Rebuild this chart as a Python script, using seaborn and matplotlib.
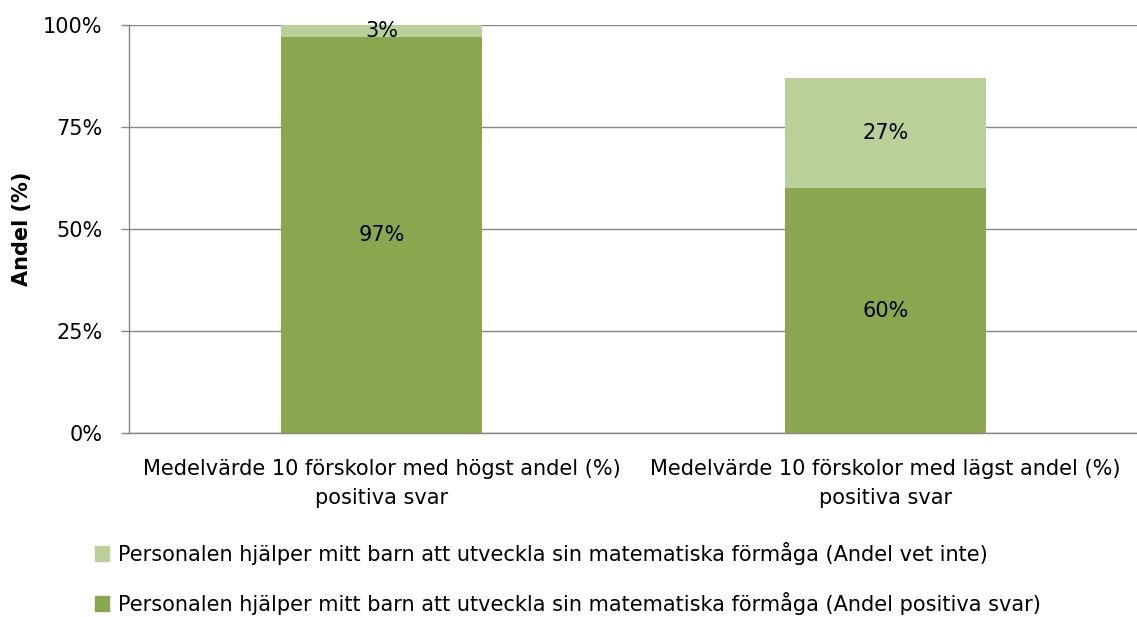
import seaborn as sns
import matplotlib.pyplot as plt
import pandas as pd

categories = ['Medelvärde 10 förskolor med högst andel (%)\npositiva svar',
              'Medelvärde 10 förskolor med lägst andel (%)\npositiva svar']
positive = [97, 60]
dont_know = [3, 27]
series_names = ['Personalen hjälper mitt barn att utveckla sin matematiska förmåga (Andel vet inte)',
                'Personalen hjälper mitt barn att utveckla sin matematiska förmåga (Andel positiva svar)']
y_ticks = [0, 25, 50, 75, 100]

DARK = '#8aa64f'
LIGHT = '#bbd098'
GRID = '#868686'
FS = 15

sns.set_style('white')
plt.rcParams['font.family'] = ['DejaVu Sans']
plt.rcParams['text.color'] = 'black'
plt.rcParams['xtick.color'] = 'black'
plt.rcParams['ytick.color'] = 'black'
plt.rcParams['axes.labelcolor'] = 'black'

df = pd.DataFrame({'cat': categories, 'pos': positive, 'dk': dont_know})
df['total'] = df['pos'] + df['dk']

fig = plt.figure(figsize=(11.37, 6.17), dpi=100)
ax = fig.add_axes([129 / 1137, 1 - 433 / 617, 1 - 129 / 1137, 408 / 617])

# stacked bars: full height in light green, positive share drawn over it
sns.barplot(data=df, x='cat', y='total', color=LIGHT, width=0.4, saturation=1,
            linewidth=0, ax=ax, zorder=3)
sns.barplot(data=df, x='cat', y='pos', color=DARK, width=0.4, saturation=1,
            linewidth=0, ax=ax, zorder=3)

for i, row in df.iterrows():
    ax.text(i, row['pos'] / 2, f"{row['pos']}%", ha='center', va='center', fontsize=FS, zorder=4)
    ax.text(i, row['pos'] + row['dk'] / 2, f"{row['dk']}%", ha='center', va='center', fontsize=FS, zorder=4)

ax.set_ylim(0, 100)
ax.set_xlim(-0.502, 1.475)
ax.set_yticks(y_ticks)
ax.set_yticklabels([f'{t}%' for t in y_ticks], fontsize=FS)
ax.set_xticks([-0.5, 0.5, 1.5], minor=True)
ax.set_xticks([0, 1])
ax.set_xticklabels(categories, fontsize=FS, linespacing=1.55)
ax.tick_params(axis='x', which='major', length=0, pad=19)
ax.tick_params(axis='x', which='minor', length=6, color=GRID, width=1)
ax.tick_params(axis='y', length=6, color=GRID, width=1, pad=13, direction='out', left=True)
ax.yaxis.grid(True, color=GRID, linewidth=1, zorder=0)
ax.set_axisbelow(True)
for s in ['top', 'right']:
    ax.spines[s].set_visible(False)
for s in ['left', 'bottom']:
    ax.spines[s].set_color(GRID)
    ax.spines[s].set_linewidth(1)
ax.set_xlabel('')
ax.set_ylabel('Andel (%)', fontsize=FS, fontweight='bold', labelpad=8)

handles = [plt.Rectangle((0, 0), 1, 1, color=LIGHT), plt.Rectangle((0, 0), 1, 1, color=DARK)]
fig.legend(handles, series_names, loc='upper left', bbox_to_anchor=(76 / 1137, 1 - 523 / 617),
           frameon=False, fontsize=FS, handlelength=0.7, handleheight=0.7, handletextpad=0.4,
           labelspacing=1.3)

fig.savefig('out.png', dpi=100)
